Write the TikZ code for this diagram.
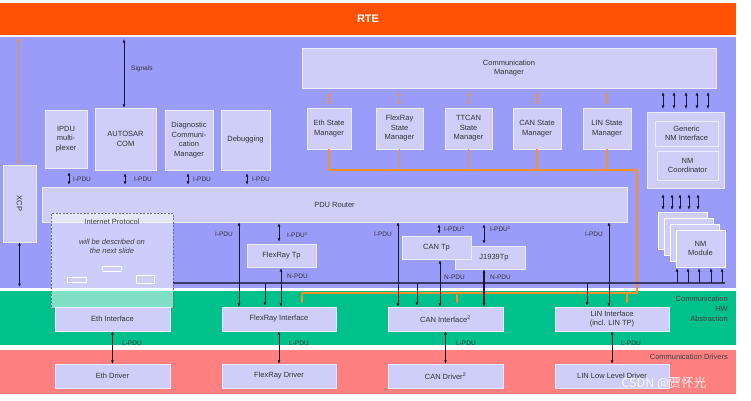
\documentclass[tikz,border=0pt]{standalone}
\usepackage{fontspec}
\setmainfont{Liberation Sans}
\newfontfamily\cjkfont{Noto Sans CJK SC}
\usetikzlibrary{arrows.meta,shadows}
\definecolor{rteorange}{RGB}{255,82,5}
\definecolor{bandpurple}{RGB}{155,155,250}
\definecolor{bandgreen}{RGB}{0,192,140}
\definecolor{bandred}{RGB}{255,128,128}
\definecolor{boxfill}{RGB}{206,206,248}
\definecolor{orangeline}{RGB}{245,145,45}
\definecolor{darkline}{RGB}{25,25,45}
\definecolor{busline}{RGB}{60,60,105}
\begin{document}
\begin{tikzpicture}[x=1pt,y=-1pt,
  font=\fontsize{7.5}{9.5}\selectfont,
  >={Latex[length=3.5pt,width=3pt]},
  box/.style={fill=boxfill, draw=white!60!boxfill, line width=0.3pt, inner sep=1pt, align=center, text=black!80,
    drop shadow={shadow xshift=1.2pt, shadow yshift=-1.2pt, opacity=0.35, fill=black!55}},
  ipstyle/.style={draw=black!55, dash pattern=on 2pt off 1.5pt, line width=0.7pt, fill=white, fill opacity=0.5},
  mini/.style={fill=boxfill, draw=white, line width=0.5pt, inner sep=0pt},
  pdu/.style={<->, draw=darkline, line width=0.9pt},
  thinpdu/.style={<->, draw=darkline, line width=0.6pt},
  orng/.style={draw=orangeline, line width=1.3pt},
  lbl/.style={font=\fontsize{6.5}{8}\selectfont, text=black!80, inner sep=1pt},
  side/.style={font=\fontsize{7.5}{10}\selectfont, text=black!75, align=right, inner sep=0pt}]
\useasboundingbox (0,0) rectangle (751,400);

% bands
\fill[bandpurple] (0,37) rectangle (736,288);
\fill[bandgreen] (0,291) rectangle (736,345);
\fill[bandred] (0,350) rectangle (736,394);
\node[fill=rteorange, minimum width=736, minimum height=32, inner sep=0pt, text=white,
  font=\bfseries\fontsize{11}{13}\selectfont] (rte) at (368,19) {RTE};

% upper boxes
\node[box, minimum width=414, minimum height=40] (comm) at (509,68) {Communication\\Manager};
\node[box, minimum width=42, minimum height=58] (ipdu) at (66,139) {IPDU\\multi-\\plexer};
\node[box, minimum width=61, minimum height=62] (com) at (125.5,139) {AUTOSAR\\COM};
\node[box, minimum width=48, minimum height=60] (dcm) at (189,140) {Diagnostic\\Communi-\\cation\\Manager};
\node[box, minimum width=49, minimum height=60] (dbg) at (245.5,140) {Debugging};
\node[box, minimum width=33, minimum height=77] (xcp) at (19.5,203.5) {};
\node[rotate=-90, text=black!80, inner sep=0pt] (xcptxt) at (xcp.center) {XCP};

% state managers
\node[box, minimum width=44, minimum height=41] (esm) at (329,128.5) {Eth State\\Manager};
\node[box, minimum width=47, minimum height=41] (fsm) at (399.5,128.5) {FlexRay\\State\\Manager};
\node[box, minimum width=47, minimum height=41] (tsm) at (468.5,128.5) {TTCAN\\State\\Manager};
\node[box, minimum width=48, minimum height=41] (csm) at (537,128.5) {CAN State\\Manager};
\node[box, minimum width=48, minimum height=41] (lsm) at (607,128.5) {LIN State\\Manager};

% NM
\node[box, minimum width=77, minimum height=76] (nmouter) at (685.5,150) {};
\node[box, minimum width=63, minimum height=25] (gni) at (686.5,133.5) {Generic\\NM Interface};
\node[box, minimum width=61, minimum height=29] (nmco) at (687.5,165.5) {NM\\Coordinator};
\node[box, draw=white, minimum width=49, minimum height=37] (nma) at (682.5,230.5) {};
\node[box, draw=white, minimum width=49, minimum height=37] (nmb) at (688.5,236.5) {};
\node[box, draw=white, minimum width=49, minimum height=37] (nmc) at (694.5,242.5) {};
\node[box, draw=white, minimum width=49, minimum height=37] (nmm) at (700.5,248.5) {NM\\Module};

% router
\node[box, minimum width=585, minimum height=35] (router) at (334.5,204.5) {PDU Router};

% transport protocols
\node[box, minimum width=69, minimum height=23] (frtp) at (281.5,255.5) {FlexRay Tp};
\node[box, minimum width=70, minimum height=23] (j1939) at (490,257.5) {\hspace*{8pt}J1939Tp};
\node[box, minimum width=69, minimum height=23] (cantp) at (436.5,247.5) {CAN Tp};

% Internet protocol (dashed)
\node[ipstyle, minimum width=122, minimum height=95] (ipbox) at (112,260.5) {};
\node[text=black!75, inner sep=0pt] (iptitle) at (112,222) {Internet Protocol};
\node[text=black!75, align=center, inner sep=0pt, font=\itshape\fontsize{7.5}{9.5}\selectfont] (ipnote) at (112,246.5) {will be described on\\the next slide};
\node[mini, minimum width=19, minimum height=5] (ipa) at (111.5,268.5) {};
\node[mini, minimum width=19, minimum height=5] (ipb) at (76.5,280) {};
\node[mini, minimum width=18, minimum height=8] (ipc) at (145,279) {};

% interfaces
\node[box, minimum width=115, minimum height=24] (ethif) at (112.5,319) {Eth Interface};
\node[box, minimum width=114, minimum height=24] (frif) at (279,319) {FlexRay Interface};
\node[box, minimum width=115, minimum height=24] (canif) at (445.5,319) {CAN Interface\textsuperscript{2}};
\node[box, minimum width=114, minimum height=24, font=\fontsize{7.5}{8.5}\selectfont] (linif) at (612,319) {LIN Interface\\(incl. LIN TP)};

% drivers
\node[box, minimum width=115, minimum height=24] (ethdrv) at (112.5,376) {Eth Driver};
\node[box, minimum width=114, minimum height=24] (frdrv) at (279,376) {FlexRay Driver};
\node[box, minimum width=115, minimum height=24] (candrv) at (445.5,376) {CAN Driver\textsuperscript{2}};
\node[box, minimum width=114, minimum height=24] (lindrv) at (612,376) {LIN Low Level Driver};

% side texts
\node[side, anchor=north east] (hwabs) at (728,296) {Communication\\HW\\Abstraction};
\node[side, anchor=east] (drvtxt) at (728,357) {Communication Drivers};

% ---- connectors ----
% signals
\coordinate (sigtop) at (124,39);
\draw[pdu] (sigtop) -- (sigtop |- com.north);
\node[lbl, anchor=west] (siglbl) at (130,69) {Signals};

% RTE to XCP, XCP down
\coordinate (xcptop) at (18.5,38);
\coordinate (xcpin) at (18.5,165);
\draw[draw=orangeline, line width=1.5pt, <->] (xcptop) -- (xcpin);
\coordinate (xcpbot) at (19.5,287);
\draw[pdu] (xcp.south) -- (xcpbot);

% I-PDU to router
\coordinate (u1) at (69,0);
\coordinate (u2) at (125,0);
\coordinate (u3) at (188,0);
\coordinate (u4) at (247,0);
\draw[pdu, shorten <=4pt, shorten >=2pt] (u1 |- ipdu.south) -- (u1 |- router.north);
\draw[pdu, shorten <=3pt, shorten >=2pt] (u2 |- com.south) -- (u2 |- router.north);
\draw[pdu, shorten <=3pt, shorten >=2pt] (u3 |- dcm.south) -- (u3 |- router.north);
\draw[pdu, shorten <=3pt, shorten >=2pt] (u4 |- dbg.south) -- (u4 |- router.north);
\node[lbl, anchor=west] (lu1) at (72,179) {I-PDU};
\node[lbl, anchor=west] (lu2) at (133,179) {I-PDU};
\node[lbl, anchor=west] (lu3) at (192,179) {I-PDU};
\node[lbl, anchor=west] (lu4) at (251,179) {I-PDU};

% comm manager <-> state managers
\foreach \n in {esm,fsm,tsm,csm,lsm}{
  \draw[orng, <->, line width=1.5pt, dash pattern=on 1.8pt off 1pt, shorten <=4pt, shorten >=3pt] (\n.north |- comm.south) -- (\n.north);
}
% state managers -> orange bus
\coordinate (obus) at (0,170);
\foreach \n in {esm,fsm,tsm,csm,lsm}{
  \draw[orng] (\n.south) -- (\n.south |- obus);
}
\coordinate (ocorner) at (637,170);
\coordinate (olow) at (637,293);
\coordinate (ofr) at (302,293);
\coordinate (ocan) at (457,293);
\coordinate (olin) at (627,293);
\draw[orng] (esm.south |- obus) -- (ocorner) -- (olow) -- (ofr);
\draw[orng, ->, shorten >=3pt] (ofr) -- (ofr |- frif.north);
\draw[orng, ->, shorten >=3pt] (ocan) -- (ocan |- canif.north);
\draw[orng, ->, shorten >=3pt] (olin) -- (olin |- linif.north);

% comm manager <-> NM
\foreach \x in {663,674,686,697,708}{
  \coordinate (nx) at (\x,0);
  \draw[<->, draw=darkline, line width=0.5pt, dash pattern=on 1.2pt off 0.8pt, shorten <=4pt, shorten >=3pt] (nx |- comm.south) -- (nx |- nmouter.north);
}
\foreach \x in {663,672,680,689,698}{
  \coordinate (ny) at (\x,0);
  \draw[<->, draw=darkline, line width=0.6pt, shorten <=6pt, shorten >=2pt] (ny |- nmouter.south) -- (ny |- nma.north);
}

% dark bus line
\coordinate (busL) at (173,283);
\coordinate (busR) at (725,283);
\draw[busline, line width=1.3pt] (busL) -- (busR);
\coordinate (b1) at (265,283);
\coordinate (b2) at (417,283);
\coordinate (b3) at (587,283);
\draw[->, draw=darkline, line width=0.8pt, shorten >=1pt] (b1) -- (b1 |- frif.north);
\draw[->, draw=darkline, line width=0.8pt, shorten >=1pt] (b2) -- (b2 |- canif.north);
\draw[->, draw=darkline, line width=0.8pt, shorten >=1pt] (b3) -- (b3 |- linif.north);
\foreach \x in {677,688,699,711,722}{
  \coordinate (bm) at (\x,283);
  \draw[->, draw=darkline, line width=0.8pt, shorten >=1pt] (bm) -- (bm |- nmm.south);
}

% PDU paths
\coordinate (c1) at (239,0);
\coordinate (c2) at (279,0);
\coordinate (c3) at (281,0);
\coordinate (c4) at (398,0);
\coordinate (c5) at (439,0);
\coordinate (c6) at (484,0);
\coordinate (c7) at (440,0);
\coordinate (c9) at (609,0);
\draw[pdu] (c1 |- router.south) -- (c1 |- frif.north);
\draw[thinpdu, shorten <=1pt, shorten >=2pt] (c2 |- router.south) -- (c2 |- frtp.north);
\draw[thinpdu, shorten <=1pt] (c3 |- frtp.south) -- (c3 |- frif.north);
\draw[pdu] (c4 |- router.south) -- (c4 |- canif.north);
\draw[pdu, shorten <=2pt, shorten >=2pt] (c5 |- router.south) -- (c5 |- cantp.north);
\draw[pdu, shorten <=2pt, shorten >=2pt] (c6 |- router.south) -- (c6 |- j1939.north);
\draw[pdu, shorten <=1pt] (c7 |- cantp.south) -- (c7 |- canif.north);
\draw[pdu, line width=1.4pt] (c6 |- j1939.south) -- (c6 |- canif.north);
\draw[pdu] (c9 |- router.south) -- (c9 |- linif.north);

\node[lbl, anchor=east] (l1) at (234,234) {I-PDU};
\node[lbl, anchor=west] (l2) at (286,235) {I-PDU\textsuperscript{1}};
\node[lbl, anchor=west] (l3) at (286,276) {N-PDU};
\node[lbl, anchor=east] (l4) at (393,234) {I-PDU};
\node[lbl, anchor=west] (l5) at (443,229) {I-PDU\textsuperscript{1}};
\node[lbl, anchor=west] (l6) at (489,229) {I-PDU\textsuperscript{1}};
\node[lbl, anchor=west] (l7) at (443,277) {N-PDU};
\node[lbl, anchor=west] (l8) at (489,277) {N-PDU};
\node[lbl, anchor=east] (l9) at (604,234) {I-PDU};

% L-PDU
\draw[thinpdu] (ethif.south) -- (ethdrv.north);
\draw[thinpdu] (frif.south) -- (frdrv.north);
\draw[pdu] (canif.south) -- (candrv.north);
\draw[thinpdu] (linif.south) -- (lindrv.north);
\node[lbl, anchor=west] (lp1) at (121,343) {L-PDU};
\node[lbl, anchor=west] (lp2) at (288,343) {L-PDU};
\node[lbl, anchor=west] (lp3) at (455,343) {L-PDU};
\node[lbl, anchor=west] (lp4) at (620,343) {L-PDU};

% watermark
\node[text=white, opacity=0.9, inner sep=0pt, font=\cjkfont\fontsize{12.5}{14}\selectfont] (wm) at (664,383) {CSDN @贾怀光};
\end{tikzpicture}
\end{document}
